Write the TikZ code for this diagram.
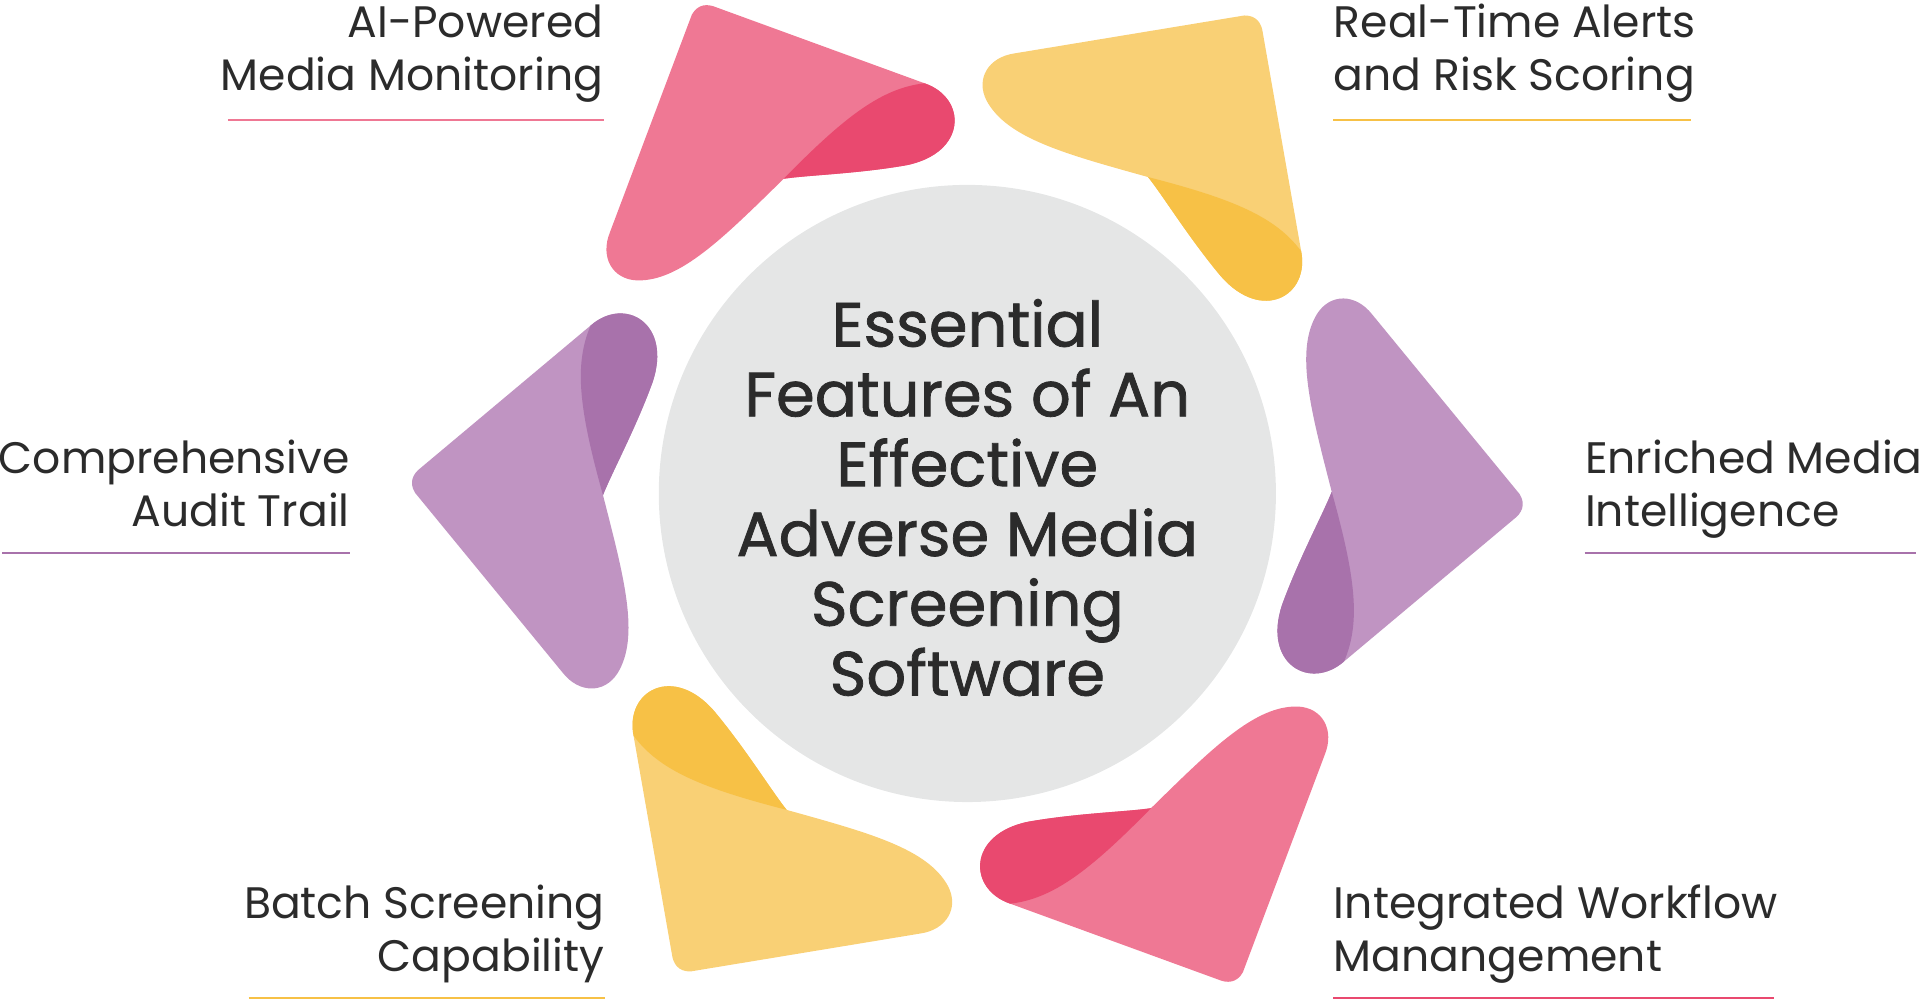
\documentclass[tikz,border=0pt]{standalone}
\usepackage{fontspec}
\setmainfont{Poppins}
\newfontfamily\titlefont[FakeBold=1.2]{Poppins}
\definecolor{pinkL}{HTML}{EF7894}\definecolor{pinkD}{HTML}{E9496F}
\definecolor{yelL}{HTML}{F9D075}\definecolor{yelD}{HTML}{F7C146}
\definecolor{purL}{HTML}{C094C2}\definecolor{purD}{HTML}{A872AB}
\definecolor{circ}{HTML}{E5E6E6}\definecolor{txt}{HTML}{2B2B2B}
\begin{document}
\begin{tikzpicture}[x=0.5pt,y=-0.5pt,
  lbl/.style={font=\fontsize{18}{21}\selectfont,text=txt,inner sep=0pt},
  ttl/.style={font=\titlefont\fontsize{25.5}{28}\selectfont,text=txt,inner sep=0pt,anchor=base},
  uline/.style={line width=0.8pt}]
\useasboundingbox (0,0) rectangle (1568,818);
\node[circle,fill=circ,minimum size=252pt,inner sep=0pt] (c) at (790,403) {};
\foreach \a/\cl/\cd [count=\i] in {0/pinkL/pinkD,-60/yelL/yelD,-120/purL/purD,-180/pinkL/pinkD,-240/yelL/yelD,-300/purL/purD}{
  \begin{scope}[rotate around={\a:(790,403)}]
  \fill[\cl] (565,12) .. controls (570,3) and (578,3) .. (585,6) -- (755,68) .. controls (790,80) and (790,125) .. (740,135) .. controls (700,142) and (660,143) .. (640,146) .. controls (590,195) and (555,230) .. (520,229) .. controls (500,228) and (490,210) .. (498,190) -- cycle;
  \fill[\cd] (640,146) .. controls (690,95) and (720,72) .. (755,68) .. controls (790,80) and (790,125) .. (740,135) .. controls (700,142) and (660,143) .. (640,146) -- cycle;
  \end{scope}}
\node[ttl] (t1) at (790,283) {Essential};
\node[ttl] (t2) at (790,340) {Features of An};
\node[ttl] (t3) at (790,397) {Effective};
\node[ttl] (t4) at (790,454) {Adverse Media};
\node[ttl] (t5) at (790,511) {Screening};
\node[ttl] (t6) at (790,568) {Software};
% labels
\node[lbl,anchor=base east] (a1) at (493,31) {AI-Powered};
\node[lbl,anchor=base east] (a2) at (493,74) {Media Monitoring};
\coordinate (a3) at (186,98); \coordinate (a4) at (493,98);
\draw[uline,pinkL] (a3) -- (a4);
\node[lbl,anchor=base west] (b1) at (1089,31) {Real-Time Alerts};
\node[lbl,anchor=base west] (b2) at (1089,74) {and Risk Scoring};
\coordinate (b3) at (1089,98); \coordinate (b4) at (1381,98);
\draw[uline,yelD] (b3) -- (b4);
\node[lbl,anchor=base east] (c1) at (286,387) {Comprehensive};
\node[lbl,anchor=base east] (c2) at (286,430) {Audit Trail};
\coordinate (c3) at (2,452); \coordinate (c4) at (286,452);
\draw[uline,purD] (c3) -- (c4);
\node[lbl,anchor=base west] (d1) at (1294,387) {Enriched Media};
\node[lbl,anchor=base west] (d2) at (1294,430) {Intelligence};
\coordinate (d3) at (1294,452); \coordinate (d4) at (1565,452);
\draw[uline,purD] (d3) -- (d4);
\node[lbl,anchor=base east] (e1) at (494,750) {Batch Screening};
\node[lbl,anchor=base east] (e2) at (494,793) {Capability};
\coordinate (e3) at (203,815); \coordinate (e4) at (494,815);
\draw[uline,yelD] (e3) -- (e4);
\node[lbl,anchor=base west] (f1) at (1089,750) {Integrated Workflow};
\node[lbl,anchor=base west] (f2) at (1089,793) {Manangement};
\coordinate (f3) at (1089,815); \coordinate (f4) at (1449,815);
\draw[uline,pinkD] (f3) -- (f4);
\end{tikzpicture}
\end{document}
